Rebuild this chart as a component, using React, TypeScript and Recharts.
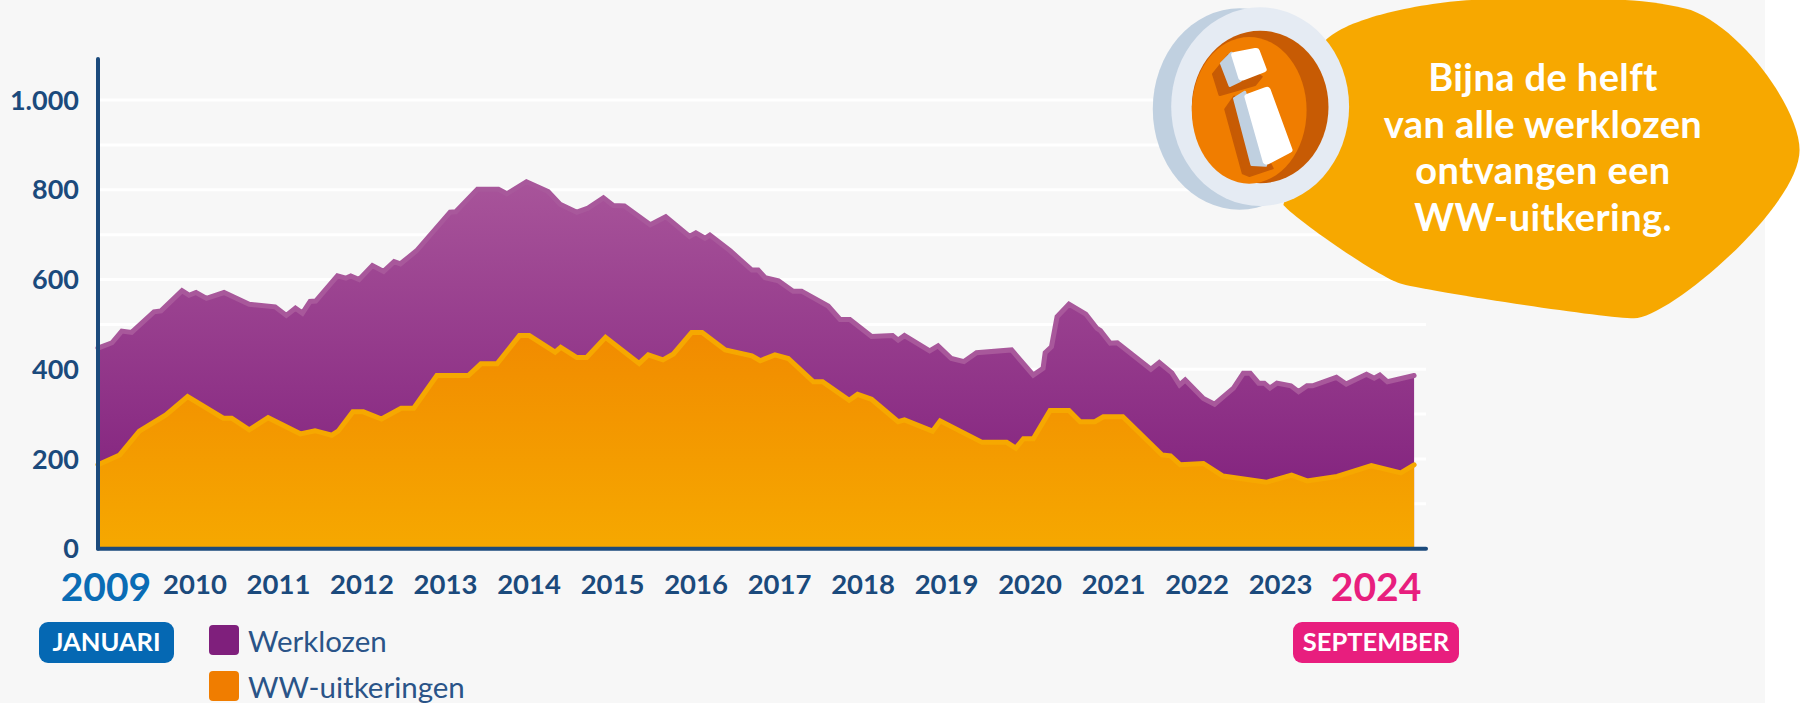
import React from "react";
import { AreaChart, Area, XAxis, YAxis, CartesianGrid, Legend } from "recharts";

const FONT = "Lato, 'Open Sans', sans-serif";
const NAVY = "#1b4a7c";
const BLUE = "#0a6cb5";
const PINK = "#e81e7e";

// months since january 2009
const werklozenMonths = [
  0, 2, 3.4, 4.8, 8, 9, 12, 13, 14, 15.5,
  18, 21.6, 25.3, 26.9, 28.2, 29.2, 30.3, 31.1, 34.2, 35.4,
  36.1, 37.3, 39.2, 40.8, 42.3, 43.2, 45.5, 50.3, 51.1, 54.2,
  57.2, 58.4, 61.2, 64.3, 66, 68.4, 70, 72.2, 73.6, 75.2,
  78.9, 81.1, 84.5, 85.4, 86.7, 87.4, 90.3, 93.4, 94.3, 95.3,
  97.2, 99.3, 100.5, 104.3, 106, 107.4, 110.5, 113.5, 114.3, 115.2,
  118.8, 120, 121.9, 123.7, 125.5, 130.5, 133.6, 135, 135.3, 136.2,
  137, 138.7, 141.1, 142.7, 143.2, 144.6, 145.6, 150.4, 151.6, 153.4,
  154.5, 155.3, 157.9, 159.5, 162.2, 163.6, 164.6, 165.8, 166.6, 167.4,
  168.4, 170.4, 171.5, 172.7, 173.5, 176.9, 178.3, 181.2, 182.3, 183.1,
  184.2, 188,
];
const werklozenValues = [
  447, 459, 485, 482, 528, 530, 575, 565, 571, 558,
  571, 545, 539, 520, 536, 525, 551, 552, 608, 603,
  608, 600, 631, 618, 640, 635, 664, 750, 751, 801,
  801, 791, 818, 796, 768, 750, 759, 782, 765, 764,
  722, 740, 696, 704, 692, 699, 664, 621, 621, 604,
  597, 574, 574, 541, 511, 511, 473, 475, 465, 475,
  441, 452, 424, 417, 437, 443, 387, 402, 437, 450,
  517, 545, 523, 491, 486, 458, 459, 400, 415, 392,
  365, 376, 335, 322, 358, 391, 391, 369, 369, 358,
  369, 363, 350, 363, 363, 382, 367, 389, 380, 387,
  372, 386,
];

const uitkeringMonths = [
  0, 3.1, 5.9, 9.7, 12.8, 17.9, 19.1, 21.6, 24.3, 28.9,
  31, 33.4, 34.3, 36.4, 37.9, 40.5, 43.3, 45.1, 48.4, 52.9,
  54.7, 57, 60.2, 61.6, 65.3, 66.1, 68.4, 69.8, 72.5, 77.3,
  78.6, 80.7, 82.2, 84.8, 86.3, 89.6, 93.4, 94.6, 96.7, 98.6,
  102.2, 103.5, 107.3, 108.5, 110.5, 114.3, 115.2, 119.2, 120.3, 126.3,
  129.8, 131.1, 132.2, 133.6, 136, 138.7, 140.3, 142.4, 143.6, 146.4,
  152, 153.2, 154.6, 157.9, 160.7, 166.9, 170.5, 172.7, 177, 181.9,
  186.1, 188,
];
const uitkeringValues = [
  187, 209, 262, 298, 339, 291, 291, 265, 292, 256,
  263, 253, 262, 305, 305, 289, 313, 313, 386, 386,
  412, 412, 475, 475, 438, 449, 426, 426, 471, 413,
  432, 421, 434, 482, 482, 443, 430, 419, 432, 424,
  372, 372, 331, 344, 333, 283, 287, 262, 285, 237,
  237, 224, 245, 245, 308, 308, 283, 283, 294, 294,
  209, 207, 187, 190, 162, 148, 164, 151, 161, 185,
  169, 187,
];

const yearTicks = [0, 12, 24, 36, 48, 60, 72, 84, 96, 108, 120, 132, 144, 156, 168, 180];
const yTicks = [0, 200, 400, 600, 800, 1000];
const gridLines = [100, 200, 300, 400, 500, 600, 700, 800, 900, 1000];
const legendColors = { Werklozen: "#7f1f7c", "WW-uitkeringen": "#f07d00" };
const calloutLines = ["Bijna de helft", "van alle werklozen", "ontvangen een", "WW-uitkering."];

const werklozen = werklozenMonths.map((month, i) => ({ month, value: werklozenValues[i] }));
const uitkeringen = uitkeringMonths.map((month, i) => ({ month, value: uitkeringValues[i] }));

const YearTick = ({ x, y, payload }: any) => {
  const year = 2009 + payload.value / 12;
  if (year === 2009 || year === 2024) {
    return (
      <text x={year === 2009 ? x + 8 : x + 18} y={y + 44} textAnchor="middle" fontFamily={FONT} fontSize={39} fontWeight={700} fill={year === 2009 ? BLUE : PINK}>
        {year}
      </text>
    );
  }
  return (
    <text x={x + 13 - (year - 2010) * 0.5} y={y + 37} textAnchor="middle" fontFamily={FONT} fontSize={27.5} fontWeight={700} fill={NAVY}>
      {year}
    </text>
  );
};

const LegendRows = ({ payload }: any) => (
  <div>
    {(payload || []).map((entry: any) => (
      <div key={entry.value} style={{ display: "flex", alignItems: "center", height: 46, fontFamily: FONT, fontSize: 29.5, color: "#2a5488" }}>
        <span style={{ width: 30, height: 30, borderRadius: 4, marginRight: 9, background: legendColors[entry.value] }} />
        {entry.value}
      </div>
    ))}
  </div>
);

const Pill = ({ x, width, color, label }: any) => (
  <g>
    <rect x={x} y={622} width={width} height={41} rx={9} fill={color} />
    <text x={x + width / 2} y={651} textAnchor="middle" fontFamily={FONT} fontSize={25.5} fontWeight={700} fill="#fff">
      {label}
    </text>
  </g>
);

const Callout = () => (
  <g>
    <g transform="translate(1130,0) scale(0.4382,0.3333)">
      <path d="M440,130 C480,60 650,10 780,0 L1130,0 C1180,3 1240,15 1280,30 C1400,90 1528,330 1528,450 C1528,620 1230,955 1150,955 C1080,955 660,870 615,850 C560,825 380,660 350,615 Z" fill="#f7a800" />
      <ellipse cx={250} cy={327} rx={198} ry={302} fill="#c0d0e0" />
      <ellipse cx={297} cy={320} rx={203} ry={298} fill="#e5ebf3" />
      <ellipse cx={297} cy={321} rx={156} ry={229} fill="#c75b04" />
      <ellipse cx={272} cy={331} rx={131} ry={220} fill="#f07d00" />
      <polygon points="225,165 190,222 205,285 285,255 300,230" fill="#c75b04" stroke="#c75b04" strokeWidth={6} strokeLinejoin="round" />
      <polygon points="238,290 218,328 258,520 272,528 325,505" fill="#c75b04" stroke="#c75b04" strokeWidth={6} strokeLinejoin="round" />
      <polygon points="232,158 208,190 228,258 252,243" fill="#c0d0e0" stroke="#c0d0e0" strokeWidth={6} strokeLinejoin="round" />
      <polygon points="262,275 238,295 278,495 310,497" fill="#c0d0e0" stroke="#c0d0e0" strokeWidth={6} strokeLinejoin="round" />
      <polygon points="240,165 287,153 303,209 256,233" fill="#fff" stroke="#fff" strokeWidth={18} strokeLinejoin="round" />
      <polygon points="270,290 312,270 362,450 312,485" fill="#fff" stroke="#fff" strokeWidth={18} strokeLinejoin="round" />
    </g>
    {calloutLines.map((line, i) => (
      <text key={line} x={1543} y={91 + i * 46.5} textAnchor="middle" fontFamily={FONT} fontSize={38} fontWeight={700} letterSpacing={0.4} fill="#fff">
        {line}
      </text>
    ))}
  </g>
);

const App = () => {
  return (
    <div style={{ position: "absolute", left: 0, top: 0, width: 1817, height: 703, background: "#fff", overflow: "hidden" }}>
      <div style={{ position: "absolute", left: 0, top: 0, width: 1765, height: 703, background: "#f7f7f7" }} />
      <div style={{ position: "absolute", left: 0, top: 0 }}>
        <AreaChart width={1817} height={703} margin={{ top: 59, right: 391, left: 0, bottom: 0 }}>
          <defs>
            <linearGradient id="purpleFill" x1="0" y1="0" x2="0" y2="1">
              <stop offset="0%" stopColor="#a8549a" />
              <stop offset="100%" stopColor="#7d1b7a" />
            </linearGradient>
            <linearGradient id="orangeFill" x1="0" y1="0" x2="0" y2="1">
              <stop offset="0%" stopColor="#f18b00" />
              <stop offset="100%" stopColor="#f6a800" />
            </linearGradient>
          </defs>
          <CartesianGrid vertical={false} stroke="#ffffff" strokeWidth={3} horizontalValues={gridLines} />
          <XAxis
            type="number"
            dataKey="month"
            domain={[0, 189.7]}
            ticks={yearTicks}
            interval={0}
            height={154.3}
            tick={<YearTick />}
            tickLine={false}
            axisLine={{ stroke: NAVY, strokeWidth: 4, strokeLinecap: "round" }}
          />
          <YAxis
            type="number"
            domain={[0, 1091.5]}
            ticks={yTicks}
            interval={0}
            width={98}
            tickSize={0}
            tickMargin={19}
            tickLine={false}
            tickFormatter={(v) => (v === 1000 ? "1.000" : String(v))}
            tick={{ fill: NAVY, fontSize: 27, fontWeight: 700, fontFamily: FONT }}
            axisLine={{ stroke: NAVY, strokeWidth: 4, strokeLinecap: "round" }}
          />
          <Area
            data={werklozen}
            type="linear"
            dataKey="value"
            name="Werklozen"
            stroke="#a8589b"
            strokeWidth={5}
            strokeLinecap="round"
            fill="url(#purpleFill)"
            fillOpacity={1}
            isAnimationActive={false}
          />
          <Area
            data={uitkeringen}
            type="linear"
            dataKey="value"
            name="WW-uitkeringen"
            stroke="#f6a800"
            strokeWidth={5}
            strokeLinecap="round"
            fill="url(#orangeFill)"
            fillOpacity={1}
            isAnimationActive={false}
          />
          <Legend
            layout="vertical"
            align="center"
            verticalAlign="middle"
            itemSorter={null}
            content={<LegendRows />}
            wrapperStyle={{ position: "absolute", left: 209, top: 617, width: 300, height: 92, margin: 0 }}
          />
        </AreaChart>
      </div>
      <svg width={1817} height={703} style={{ position: "absolute", left: 0, top: 0, pointerEvents: "none" }}>
        <Pill x={39} width={135} color="#0568b3" label="JANUARI" />
        <Pill x={1293} width={166} color={PINK} label="SEPTEMBER" />
        <Callout />
      </svg>
    </div>
  );
};

export default App;
